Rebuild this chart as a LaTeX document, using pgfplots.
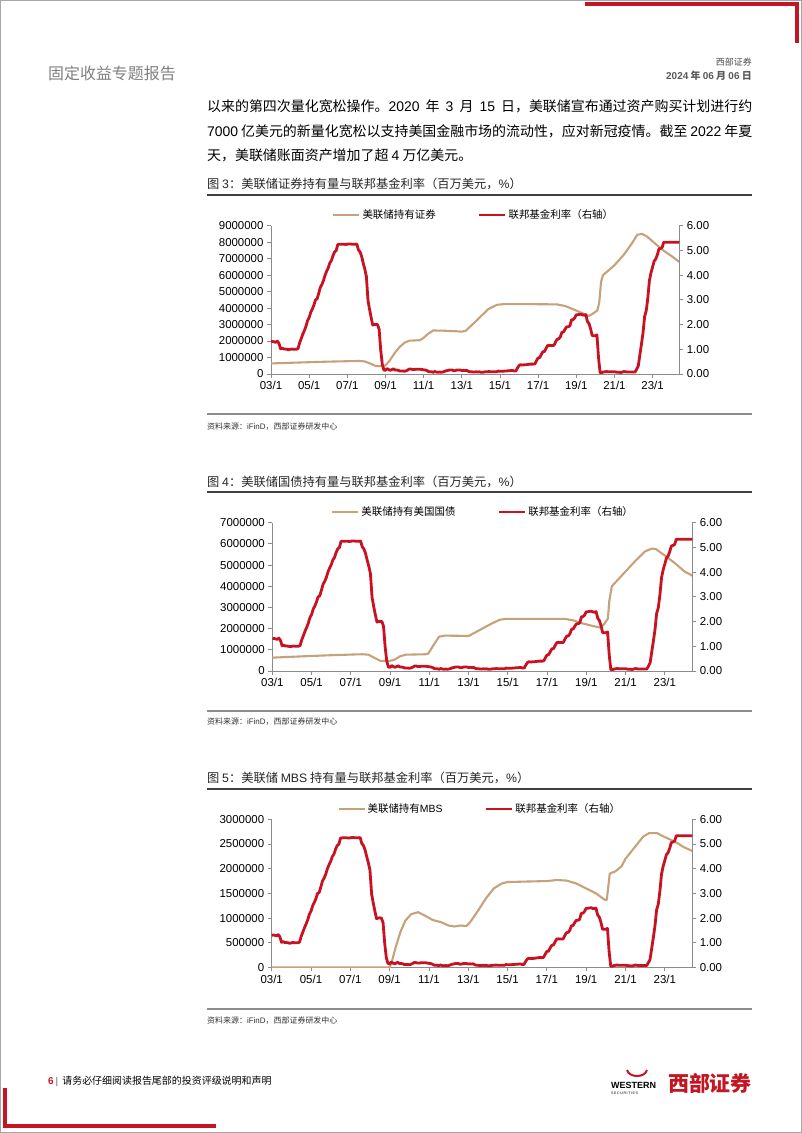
\documentclass[border=0pt]{standalone}
\usepackage{fontspec}
\usepackage{pgfplots}
\pgfplotsset{compat=1.18}
\usepackage{pgfplotstable}
\setmainfont{Noto Sans CJK SC}
\newfontfamily\lat{Liberation Sans}
\XeTeXlinebreaklocale "zh"
\XeTeXlinebreakskip=0pt plus 3pt minus 0.6pt
\definecolor{tanl}{RGB}{198,162,122}
\definecolor{fred}{RGB}{200,18,34}
\definecolor{wred}{RGB}{196,22,34}

\pgfplotstableread{
x y
2003.000 1.30
2003.083 1.32
2003.167 1.30
2003.250 1.28
2003.333 1.33
2003.417 1.24
2003.500 1.02
2003.583 1.05
2003.667 1.01
2003.750 1.01
2003.833 1.00
2003.917 0.98
2004.000 1.00
2004.083 1.01
2004.167 1.00
2004.250 1.00
2004.333 1.00
2004.417 1.03
2004.500 1.26
2004.583 1.43
2004.667 1.61
2004.750 1.76
2004.833 1.93
2004.917 2.16
2005.000 2.28
2005.083 2.50
2005.167 2.63
2005.250 2.79
2005.333 3.00
2005.417 3.04
2005.500 3.26
2005.583 3.50
2005.667 3.62
2005.750 3.78
2005.833 4.00
2005.917 4.16
2006.000 4.29
2006.083 4.49
2006.167 4.59
2006.250 4.79
2006.333 4.94
2006.417 4.99
2006.500 5.24
2006.583 5.25
2006.667 5.25
2006.750 5.25
2006.833 5.25
2006.917 5.24
2007.000 5.25
2007.083 5.26
2007.167 5.26
2007.250 5.25
2007.333 5.25
2007.417 5.25
2007.500 5.26
2007.583 5.02
2007.667 4.94
2007.750 4.76
2007.833 4.49
2007.917 4.24
2008.000 3.94
2008.083 2.98
2008.167 2.61
2008.250 2.28
2008.333 1.98
2008.417 2.00
2008.500 2.01
2008.583 2.00
2008.667 1.81
2008.750 0.97
2008.833 0.39
2008.917 0.16
2009.000 0.15
2009.083 0.22
2009.167 0.18
2009.250 0.15
2009.333 0.18
2009.417 0.21
2009.500 0.16
2009.583 0.16
2009.667 0.15
2009.750 0.12
2009.833 0.12
2009.917 0.12
2010.000 0.11
2010.083 0.13
2010.167 0.16
2010.250 0.20
2010.333 0.20
2010.417 0.18
2010.500 0.18
2010.583 0.19
2010.667 0.19
2010.750 0.19
2010.833 0.19
2010.917 0.18
2011.000 0.17
2011.083 0.16
2011.167 0.14
2011.250 0.10
2011.333 0.09
2011.417 0.09
2011.500 0.07
2011.583 0.10
2011.667 0.08
2011.750 0.07
2011.833 0.08
2011.917 0.07
2012.000 0.08
2012.083 0.10
2012.167 0.13
2012.250 0.14
2012.333 0.16
2012.417 0.16
2012.500 0.16
2012.583 0.13
2012.667 0.14
2012.750 0.16
2012.833 0.16
2012.917 0.16
2013.000 0.14
2013.083 0.15
2013.167 0.14
2013.250 0.15
2013.333 0.11
2013.417 0.09
2013.500 0.09
2013.583 0.08
2013.667 0.08
2013.750 0.09
2013.833 0.08
2013.917 0.09
2014.000 0.07
2014.083 0.07
2014.167 0.08
2014.250 0.09
2014.333 0.09
2014.417 0.10
2014.500 0.09
2014.583 0.09
2014.667 0.09
2014.750 0.09
2014.833 0.09
2014.917 0.12
2015.000 0.11
2015.083 0.11
2015.167 0.11
2015.250 0.12
2015.333 0.12
2015.417 0.13
2015.500 0.13
2015.583 0.14
2015.667 0.14
2015.750 0.12
2015.833 0.12
2015.917 0.24
2016.000 0.34
2016.083 0.38
2016.167 0.36
2016.250 0.37
2016.333 0.37
2016.417 0.38
2016.500 0.39
2016.583 0.40
2016.667 0.40
2016.750 0.40
2016.833 0.41
2016.917 0.54
2017.000 0.65
2017.083 0.66
2017.167 0.79
2017.250 0.90
2017.333 0.91
2017.417 1.04
2017.500 1.15
2017.583 1.16
2017.667 1.15
2017.750 1.15
2017.833 1.16
2017.917 1.30
2018.000 1.41
2018.083 1.42
2018.167 1.51
2018.250 1.69
2018.333 1.70
2018.417 1.82
2018.500 1.91
2018.583 1.91
2018.667 1.95
2018.750 2.19
2018.833 2.20
2018.917 2.27
2019.000 2.40
2019.083 2.40
2019.167 2.41
2019.250 2.42
2019.333 2.39
2019.417 2.38
2019.500 2.40
2019.583 2.13
2019.667 2.04
2019.750 1.83
2019.833 1.55
2019.917 1.55
2020.000 1.55
2020.083 1.58
2020.167 0.65
2020.250 0.05
2020.333 0.05
2020.417 0.08
2020.500 0.09
2020.583 0.10
2020.667 0.09
2020.750 0.09
2020.833 0.09
2020.917 0.09
2021.000 0.09
2021.083 0.08
2021.167 0.07
2021.250 0.07
2021.333 0.06
2021.417 0.08
2021.500 0.10
2021.583 0.09
2021.667 0.08
2021.750 0.08
2021.833 0.08
2021.917 0.08
2022.000 0.08
2022.083 0.08
2022.167 0.20
2022.250 0.33
2022.333 0.77
2022.417 1.21
2022.500 1.68
2022.583 2.33
2022.667 2.56
2022.750 3.08
2022.833 3.78
2022.917 4.10
2023.000 4.33
2023.083 4.57
2023.167 4.65
2023.250 4.83
2023.333 5.06
2023.417 5.08
2023.500 5.12
2023.583 5.33
2023.667 5.33
2023.750 5.33
2023.833 5.33
2023.917 5.33
2024.000 5.33
2024.083 5.33
2024.167 5.33
2024.250 5.33
2024.333 5.33
2024.417 5.33
}\ffr

\pgfplotstableread{
x y
2003.00 640000
2004.00 680000
2005.00 715000
2006.00 750000
2007.00 775000
2007.60 790000
2007.90 765000
2008.20 640000
2008.50 480000
2008.95 476000
2009.20 780000
2009.50 1300000
2009.75 1650000
2010.00 1900000
2010.25 2020000
2010.80 2050000
2010.95 2150000
2011.25 2450000
2011.50 2640000
2012.00 2630000
2012.60 2600000
2013.00 2570000
2013.20 2620000
2013.60 3050000
2014.00 3500000
2014.40 3950000
2014.85 4200000
2015.20 4240000
2016.50 4240000
2017.50 4230000
2018.00 4220000
2018.40 4130000
2018.90 3900000
2019.30 3700000
2019.65 3520000
2019.85 3650000
2020.10 3850000
2020.20 4300000
2020.30 5600000
2020.40 6000000
2020.70 6300000
2021.00 6600000
2021.50 7250000
2021.90 7900000
2022.20 8450000
2022.45 8500000
2022.70 8350000
2023.00 8050000
2023.50 7550000
2024.00 7150000
2024.40 6800000
}\secs

\pgfplotstableread{
x y
2003.00 630000
2004.00 670000
2005.00 710000
2006.00 745000
2007.00 775000
2007.60 790000
2007.90 770000
2008.20 620000
2008.50 480000
2008.95 476000
2009.20 520000
2009.50 690000
2009.80 770000
2010.80 790000
2010.95 820000
2011.20 1200000
2011.50 1620000
2011.80 1670000
2012.60 1660000
2013.00 1650000
2013.30 1800000
2013.70 2000000
2014.20 2250000
2014.60 2420000
2014.90 2460000
2016.50 2460000
2017.90 2460000
2018.30 2400000
2018.80 2250000
2019.30 2130000
2019.70 2050000
2019.90 2200000
2020.10 2480000
2020.17 3300000
2020.30 4000000
2020.60 4300000
2021.00 4700000
2021.50 5200000
2022.00 5650000
2022.35 5780000
2022.55 5750000
2023.00 5450000
2023.50 5100000
2024.00 4700000
2024.40 4500000
}\tsy

\pgfplotstableread{
x y
2003.00 0
2009.00 0
2009.10 100000
2009.30 400000
2009.55 720000
2009.80 950000
2010.10 1080000
2010.45 1120000
2010.80 1050000
2011.20 960000
2011.60 920000
2012.00 850000
2012.30 830000
2012.60 850000
2012.90 840000
2013.10 920000
2013.50 1150000
2013.90 1400000
2014.30 1600000
2014.70 1700000
2015.00 1730000
2016.00 1740000
2017.00 1750000
2017.50 1770000
2018.00 1760000
2018.50 1700000
2019.00 1600000
2019.50 1500000
2019.95 1370000
2020.05 1370000
2020.20 1900000
2020.50 1950000
2020.80 2050000
2021.00 2200000
2021.50 2450000
2021.90 2650000
2022.20 2720000
2022.60 2720000
2023.00 2640000
2023.50 2550000
2024.00 2430000
2024.40 2360000
}\mbs

\pgfplotsset{
  common/.style={scale only axis, xmin=2003, xmax=2024.4, ymin=0,
    tick align=outside, major tick length=4bp,
    axis line style={black!45, line width=0.8bp},
    tick style={black!45, line width=0.8bp},
    ticklabel style={font=\lat\fontsize{11.5}{13}\selectfont},
    /pgf/number format/assume math mode=true},
  leftax/.style={common, axis x line*=bottom, axis y line*=left,
    xtick={2003,2005,2007,2009,2011,2013,2015,2017,2019,2021,2023},
    xticklabels={03/1,05/1,07/1,09/1,11/1,13/1,15/1,17/1,19/1,21/1,23/1},
    scaled y ticks=false,
    yticklabel style={/pgf/number format/.cd, fixed, precision=0, 1000 sep={}}},
  rightax/.style={common, axis x line=none, axis y line*=right,
    ymax=6, ytick={0,1,2,3,4,5,6},
    yticklabel style={/pgf/number format/.cd, fixed, fixed zerofill, precision=2},
    legend columns=2,
    legend style={draw=none, fill=none, inner sep=0pt, anchor=west,
      font=\fontsize{10.5}{12}\selectfont,
      /tikz/every even column/.append style={column sep=40bp}},
    legend image code/.code={\draw[##1] (0bp,0bp) -- (26bp,0bp);}},
  brn/.style={tanl, line width=2.1bp, line join=round},
  rd/.style={fred, line width=2.8bp, line join=round}
}

\begin{document}
\begin{tikzpicture}
\useasboundingbox (0,0) rectangle (802bp,1133bp);
\fill[white] (0,0) rectangle (802bp,1133bp);
\draw[black!35, line width=1bp] (0.5bp,0.5bp) rectangle (801.5bp,1132.5bp);

% decorations
\fill[wred] (585bp,1127bp) rectangle (799bp,1130.5bp);
\fill[wred] (794.5bp,1090bp) rectangle (799bp,1130.5bp);
\fill[wred] (3bp,5bp) rectangle (7bp,45bp);
\fill[wred] (3bp,5bp) rectangle (216bp,9bp);

% header
\node[anchor=west, inner sep=0pt, text=black!50] at (48bp,1060bp) {\fontsize{16}{18}\selectfont 固定收益专题报告};
\node[anchor=east, inner sep=0pt, text=black!70] at (752bp,1071bp) {\fontsize{9}{10}\selectfont 西部证券};
\node[anchor=east, inner sep=0pt, text=black!65] at (752bp,1057bp) {\fontsize{10}{12}\selectfont\bfseries {\lat 2024} 年 {\lat 06} 月 {\lat 06} 日};

% body text
\node[anchor=west, inner sep=0pt] at (207bp,1027bp) {\fontsize{14}{16}\selectfont\hbox to 545bp{以来的第四次量化宽松操作。{\lat 2020} 年 {\lat 3} 月 {\lat 15} 日，美联储宣布通过资产购买计划进行约}};
\node[anchor=west, inner sep=0pt] at (207bp,1002bp) {\fontsize{14}{16}\selectfont\hbox to 545bp{{\lat 7000} 亿美元的新量化宽松以支持美国金融市场的流动性，应对新冠疫情。截至 {\lat 2022} 年夏}};
\node[anchor=west, inner sep=0pt] at (207bp,978bp) {\fontsize{14}{16}\selectfont 天，美联储账面资产增加了超 {\lat 4} 万亿美元。};

% ===== Fig 3 =====
\node[anchor=west, inner sep=0pt, text=black!85] at (207bp,949bp) {\fontsize{12.3}{14}\selectfont 图 {\lat 3}：美联储证券持有量与联邦基金利率（百万美元，{\lat\%}）};
\draw[black!75, line width=1.3bp] (207bp,938bp) -- (752bp,938bp);
\draw[black!45, line width=1.5bp] (207bp,719bp) -- (752bp,719bp);
\node[anchor=west, inner sep=0pt, text=black!80] at (207bp,706bp) {\fontsize{8}{10}\selectfont 资料来源：{\lat iFinD}，西部证券研发中心};

\begin{axis}[leftax, at={(271bp,759bp)}, anchor=south west, width=408.3bp, height=148.3bp,
  ymax=9000000, ytick={0,1000000,2000000,3000000,4000000,5000000,6000000,7000000,8000000,9000000}]
\addplot[brn] table[x=x,y=y] {\secs};
\end{axis}
\begin{axis}[rightax, at={(271bp,759bp)}, anchor=south west, width=408.3bp, height=148.3bp,
  legend style={at={(0.150,1.072)}}]
\addlegendimage{brn}
\addlegendentry{美联储持有证券}
\addplot[rd] table[x=x,y=y] {\ffr};
\addlegendentry{联邦基金利率（右轴）}
\end{axis}

% ===== Fig 4 =====
\node[anchor=west, inner sep=0pt, text=black!85] at (207bp,651bp) {\fontsize{12.3}{14}\selectfont 图 {\lat 4}：美联储国债持有量与联邦基金利率（百万美元，{\lat\%}）};
\draw[black!75, line width=1.3bp] (207bp,641bp) -- (752bp,641bp);
\draw[black!45, line width=1.5bp] (207bp,422bp) -- (752bp,422bp);
\node[anchor=west, inner sep=0pt, text=black!80] at (207bp,411bp) {\fontsize{8}{10}\selectfont 资料来源：{\lat iFinD}，西部证券研发中心};

\begin{axis}[leftax, at={(272.3bp,462bp)}, anchor=south west, width=420bp, height=148.3bp,
  ymax=7000000, ytick={0,1000000,2000000,3000000,4000000,5000000,6000000,7000000}]
\addplot[brn] table[x=x,y=y] {\tsy};
\end{axis}
\begin{axis}[rightax, at={(272.3bp,462bp)}, anchor=south west, width=420bp, height=148.3bp,
  legend style={at={(0.140,1.072)}}]
\addlegendimage{brn}
\addlegendentry{美联储持有美国国债}
\addplot[rd] table[x=x,y=y] {\ffr};
\addlegendentry{联邦基金利率（右轴）}
\end{axis}

% ===== Fig 5 =====
\node[anchor=west, inner sep=0pt, text=black!85] at (207bp,355bp) {\fontsize{12.3}{14}\selectfont 图 {\lat 5}：美联储 {\lat MBS} 持有量与联邦基金利率（百万美元，{\lat\%}）};
\draw[black!75, line width=1.3bp] (207bp,344bp) -- (752bp,344bp);
\draw[black!45, line width=1.5bp] (207bp,124bp) -- (752bp,124bp);
\node[anchor=west, inner sep=0pt, text=black!80] at (207bp,112bp) {\fontsize{8}{10}\selectfont 资料来源：{\lat iFinD}，西部证券研发中心};

\begin{axis}[leftax, at={(271.7bp,165.5bp)}, anchor=south west, width=420.6bp, height=148.2bp,
  ymax=3000000, ytick={0,500000,1000000,1500000,2000000,2500000,3000000}]
\addplot[brn] table[x=x,y=y] {\mbs};
\end{axis}
\begin{axis}[rightax, at={(271.7bp,165.5bp)}, anchor=south west, width=420.6bp, height=148.2bp,
  legend style={at={(0.156,1.07)}}]
\addlegendimage{brn}
\addlegendentry{美联储持有{\lat MBS}}
\addplot[rd] table[x=x,y=y] {\ffr};
\addlegendentry{联邦基金利率（右轴）}
\end{axis}

% footer
\node[anchor=west, inner sep=0pt] at (48bp,52bp) {\fontsize{10}{12}\selectfont{\lat\bfseries\color{wred}6}\hspace{2bp}{\lat\color{black!60}|}\hspace{4bp}请务必仔细阅读报告尾部的投资评级说明和声明};
\node[anchor=east, inner sep=0pt, text=wred] at (752bp,50bp) {\fontsize{21}{22}\selectfont\bfseries 西部证券};
\node[anchor=west, inner sep=0pt] at (611bp,48bp) {\lat\bfseries\fontsize{9}{10}\selectfont WESTERN};
\node[anchor=west, inner sep=0pt] at (611bp,40bp) {\lat\fontsize{3.6}{4}\selectfont S\,E\,C\,U\,R\,I\,T\,I\,E\,S};
\draw[wred, line width=2bp] (627bp,63bp) .. controls (629bp,55bp) and (645bp,55bp) .. (647bp,63bp);
\end{tikzpicture}
\end{document}
